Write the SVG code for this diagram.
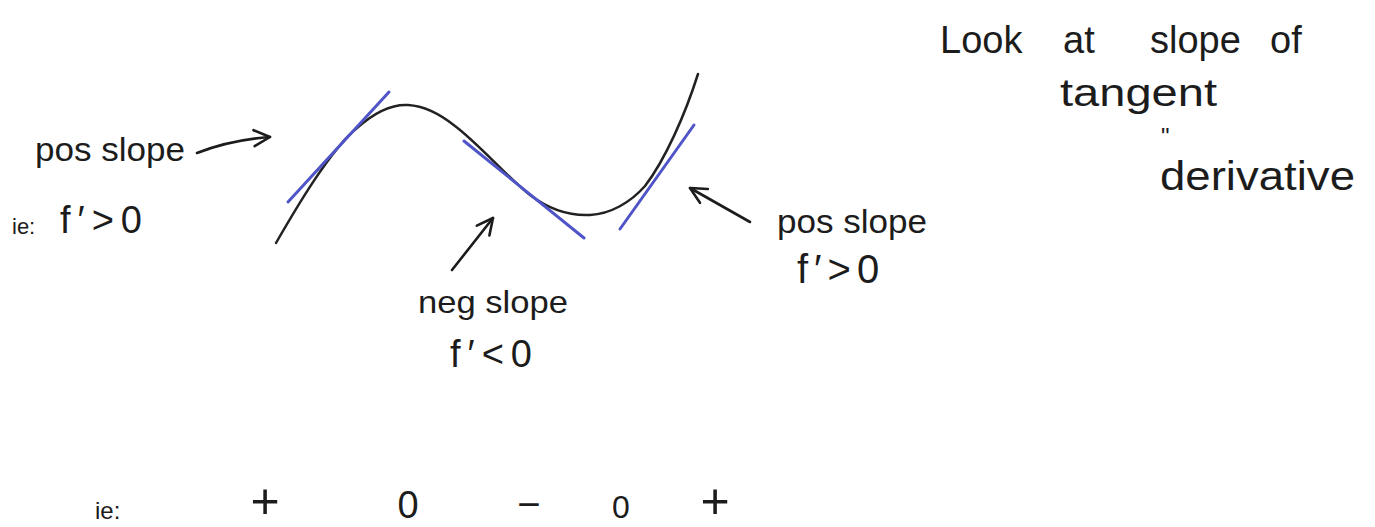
<svg xmlns="http://www.w3.org/2000/svg" width="1375" height="527" viewBox="0 0 1375 527">
<style>
.t{font-family:"Liberation Sans",Arial,sans-serif;fill:#1c1c1c}
.curve{fill:none;stroke:#222;stroke-width:2.5;stroke-linecap:round}
.tan{fill:none;stroke:#4f55c8;stroke-width:3;stroke-linecap:round}
.arr{fill:none;stroke:#1c1c1c;stroke-width:2.6;stroke-linecap:round}
</style>
<defs>
<marker id="open" viewBox="0 0 20 20" refX="18" refY="10" markerWidth="20" markerHeight="20" markerUnits="userSpaceOnUse" orient="auto">
<path d="M2,2 L18,10 L2,18" fill="none" stroke="#1c1c1c" stroke-width="2.6" stroke-linecap="round" stroke-linejoin="round"/>
</marker>
</defs>
<rect width="1375" height="527" fill="#fff"/>
<g id="graph">
<path class="curve" d="M276,243 C295,210 330,150 357,128 C375,112 392,104 408,105 C425,106 440,114 455,126 C480,145 505,175 530,195 C550,210 570,216 590,215 C610,214 630,203 645,186 C665,160 685,115 698,74"/>
<line class="tan" x1="288" y1="202" x2="389" y2="92"/>
<line class="tan" x1="464" y1="141" x2="584" y2="238"/>
<line class="tan" x1="620" y1="229" x2="694" y2="125"/>
</g>
<g id="connectors">
<path class="arr" d="M197,153 Q230,140 270,137" marker-end="url(#open)"/>
<path class="arr" d="M452,270 L493,218" marker-end="url(#open)"/>
<path class="arr" d="M750,222 L690,188" marker-end="url(#open)"/>
</g>
<g id="label-left">
<text class="t" x="35" y="161" font-size="34" textLength="150" lengthAdjust="spacingAndGlyphs">pos slope</text>
<text class="t" x="12" y="234" font-size="22">ie:</text>
<text class="t" x="60" y="233" font-size="38" letter-spacing="7">f′&gt;0</text>
</g>
<g id="label-middle">
<text class="t" x="418" y="313" font-size="32" textLength="150" lengthAdjust="spacingAndGlyphs">neg slope</text>
<text class="t" x="450" y="367" font-size="38" letter-spacing="7">f′&lt;0</text>
</g>
<g id="label-right">
<text class="t" x="777" y="233" font-size="34" textLength="150" lengthAdjust="spacingAndGlyphs">pos slope</text>
<text class="t" x="797" y="283" font-size="40" letter-spacing="6">f′&gt;0</text>
</g>
<g id="note">
<text class="t" y="53" font-size="38"><tspan x="940">Look</tspan><tspan x="1063">at</tspan><tspan x="1150">slope</tspan><tspan x="1270">of</tspan></text>
<text class="t" x="1060" y="106" font-size="38" textLength="157" lengthAdjust="spacingAndGlyphs">tangent</text>
<text class="t" x="1161" y="145" font-size="24">"</text>
<text class="t" x="1160" y="190" font-size="40" textLength="195" lengthAdjust="spacingAndGlyphs">derivative</text>
</g>
<g id="signs">
<text class="t" x="95" y="519" font-size="24">ie:</text>
<text class="t" x="265" y="518" font-size="50" text-anchor="middle">+</text>
<text class="t" x="408" y="518" font-size="38" text-anchor="middle">0</text>
<text class="t" x="529" y="518" font-size="40" text-anchor="middle">−</text>
<text class="t" x="621" y="518" font-size="32" text-anchor="middle">0</text>
<text class="t" x="715" y="518" font-size="50" text-anchor="middle">+</text>
</g>
</svg>
